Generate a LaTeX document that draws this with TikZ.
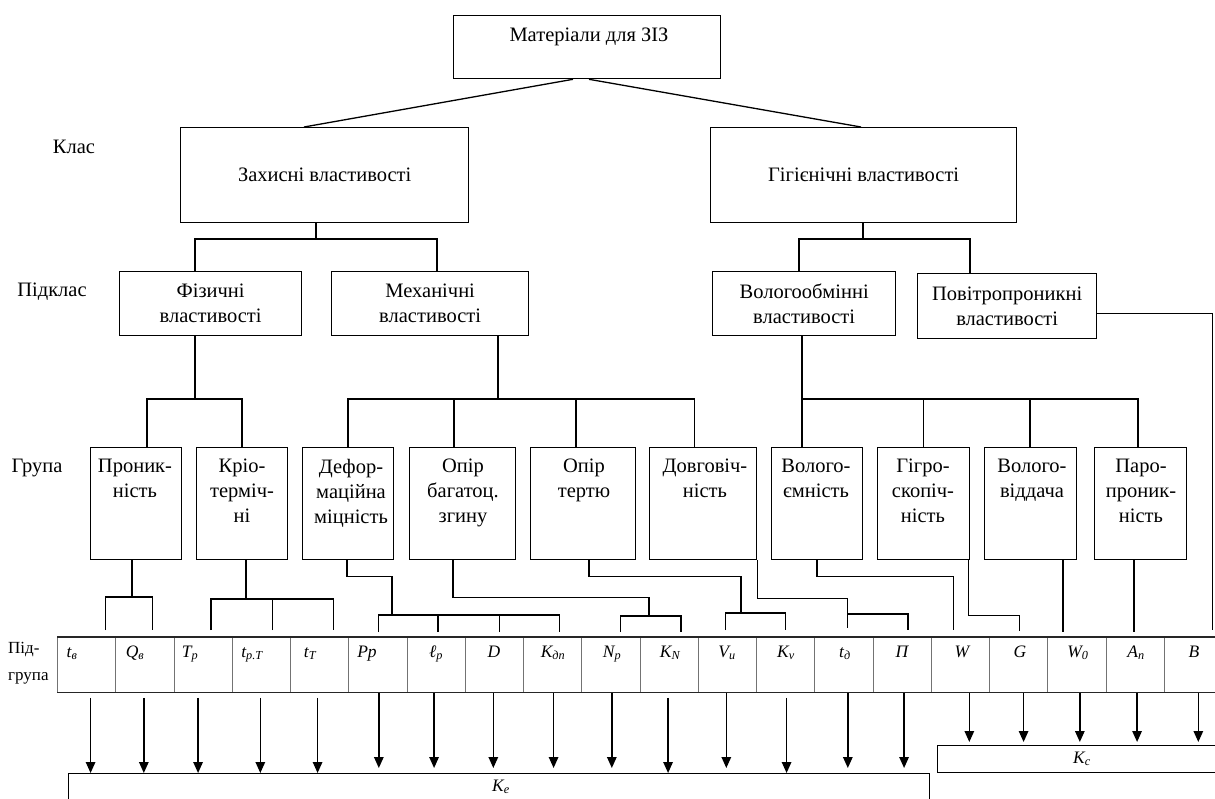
\documentclass[tikz,border=0pt]{standalone}
\usepackage{fontspec}
\setmainfont{Liberation Serif}
\usetikzlibrary{arrows.meta,calc}
\newcommand\mainsz{\fontsize{20.5}{25}\selectfont}
\newcommand\labsz{\fontsize{17.5}{21}\selectfont\itshape}
\begin{document}
\begin{tikzpicture}[x=1pt,y=-1pt,
  every node/.style={font=\mainsz},
  box/.style={draw, line width=1.3pt, inner sep=0pt, anchor=north west, align=center},
  grptxt/.style={align=center, inner sep=0pt, anchor=north, execute at begin node=\strut},
  cell/.style={draw=black!55, line width=0.9pt, inner sep=0pt, anchor=north west, minimum width=58.25, minimum height=55},
  lbl/.style={font=\labsz, inner sep=0pt, anchor=base},
  conn/.style={line width=1.3pt},
  arr/.style={line width=1.4pt, -{Triangle[width=9.5pt,length=11pt]}}
]
\useasboundingbox (0,0) rectangle (1215,798);
\clip (0,0) rectangle (1215,798);

% ---------- side labels
\node (lklas) at (74,147) {Клас};
\node (lpidklas) at (52,292) {Підклас};
\node (lgrupa) at (37,468) {Група};
\node[anchor=west, align=left, font=\fontsize{17}{27}\selectfont, inner sep=0pt] (lpidgr) at (8,663) {Під-\\група};

% ---------- top
\node[box, minimum width=267, minimum height=63] (top) at (453,15) {};
\node (toptxt) at (589,37) {Матеріали для ЗІЗ};

% ---------- classes
\node[box, minimum width=288, minimum height=95] (zah) at (180,127) {Захисні властивості};
\node[box, minimum width=306, minimum height=95] (gig) at (710,127) {Гігієнічні властивості};

% ---------- subclasses
\node[box, minimum width=182, minimum height=64] (fiz) at (119,271) {Фізичні\\властивості};
\node[box, minimum width=197, minimum height=64] (mech) at (331,271) {Механічні\\властивості};
\node[box, minimum width=183, minimum height=64] (volog) at (712,271) {Вологообмінні\\властивості};
\node[box, minimum width=179, minimum height=65] (povitr) at (917,273) {Повітропроникні\\властивості};

% ---------- groups
\node[box, minimum width=91,  minimum height=112] (g1)  at (90,447) {};
\node[box, minimum width=91,  minimum height=112] (g2)  at (196,447) {};
\node[box, minimum width=91,  minimum height=112] (g3)  at (302,447) {};
\node[box, minimum width=106, minimum height=112] (g4)  at (409,447) {};
\node[box, minimum width=105, minimum height=112] (g5)  at (530,447) {};
\node[box, minimum width=107, minimum height=112] (g6)  at (649,447) {};
\node[box, minimum width=91,  minimum height=112] (g7)  at (771,447) {};
\node[box, minimum width=92,  minimum height=112] (g8)  at (877,447) {};
\node[box, minimum width=92,  minimum height=112] (g9)  at (984,447) {};
\node[box, minimum width=92,  minimum height=112] (g10) at (1094,447) {};

\node[grptxt] (t1)  at (135,459) {Проник-\\ність};
\node[grptxt] (t2)  at (242,459) {Кріо-\\терміч-\\ні};
\node[grptxt] (t3)  at (351,459) {Дефор-\\маційна\\міцність};
\node[grptxt] (t4)  at (463,459) {Опір\\багатоц.\\згину};
\node[grptxt] (t5)  at (584,459) {Опір\\тертю};
\node[grptxt] (t6)  at (705,459) {Довговіч-\\ність};
\node[grptxt] (t7)  at (816,459) {Волого-\\ємність};
\node[grptxt] (t8)  at (923,459) {Гігро-\\скопіч-\\ність};
\node[grptxt] (t9)  at (1032,459) {Волого-\\віддача};
\node[grptxt] (t10) at (1141,459) {Паро-\\проник-\\ність};

% ---------- subgroup table
\foreach \i in {1,...,20}
  \node[cell] (c\i) at ({57+(\i-1)*58.25},637) {};
\draw[line width=1.1pt, black!85] (c1.north west) -- (c20.north east);
\draw[line width=1.1pt, black!85] (c1.south west) -- (c20.south east);

\node[lbl] (l1)  at (72,657)   {t\textsubscript{в}};
\node[lbl] (l2)  at (135,657)  {Q\textsubscript{в}};
\node[lbl] (l3)  at (190,657)  {T\textsubscript{р}};
\node[lbl] (l4)  at (252,657)  {t\textsubscript{р.Т}};
\node[lbl] (l5)  at (310,657)  {t\textsubscript{Т}};
\node[lbl] (l6)  at (367,657)  {Рр};
\node[lbl] (l7)  at (436,657)  {ℓ\textsubscript{р}};
\node[lbl] (l8)  at (494,657)  {D};
\node[lbl] (l9)  at (553,657)  {K\textsubscript{дп}};
\node[lbl] (l10) at (612,657)  {N\textsubscript{р}};
\node[lbl] (l11) at (670,657)  {K\textsubscript{N}};
\node[lbl] (l12) at (727,657)  {V\textsubscript{и}};
\node[lbl] (l13) at (786,657)  {K\textsubscript{v}};
\node[lbl] (l14) at (845,657)  {t\textsubscript{д}};
\node[lbl] (l15) at (902,657)  {П};
\node[lbl] (l16) at (962,657)  {W};
\node[lbl] (l17) at (1020,657) {G};
\node[lbl] (l18) at (1078,657) {W\textsubscript{0}};
\node[lbl] (l19) at (1136,657) {A\textsubscript{п}};
\node[lbl] (l20) at (1194,657) {B};

% ---------- K boxes
\node[draw, line width=1.1pt, inner sep=0pt, anchor=north west, minimum width=861, minimum height=60] (ke) at (68,773) {};
\node[lbl] (ketxt) at (501,791) {K\textsubscript{е}};
\node[draw, line width=1.1pt, inner sep=0pt, anchor=north west, minimum width=300, minimum height=27] (kc) at (937,745) {};
\node[lbl] (kctxt) at (1082,763) {K\textsubscript{с}};

% ---------- tree connectors
\draw[conn] ([xshift=120]top.south west) -- ([xshift=124]zah.north west);
\draw[conn] ([xshift=136]top.south west) -- ([xshift=151]gig.north west);

\draw[conn] ([xshift=136]zah.south west) -- ++(0,17);
\draw[conn] ([xshift=76]fiz.north west) -- ++(0,-32) -| ([xshift=106]mech.north west);
\draw[conn] ([xshift=153]gig.south west) -- ++(0,17);
\draw[conn] ([xshift=87]volog.north west) -- ++(0,-32) -| ([xshift=53]povitr.north west);

\draw[conn] ([xshift=76]fiz.south west) -- ++(0,64);
\draw[conn] ([xshift=57]g1.north west) -- ++(0,-48) -| ([xshift=46]g2.north west);
\draw[conn] ([xshift=167]mech.south west) -- ++(0,64);
\draw[conn] ([xshift=46]g3.north west) -- ++(0,-48) -| ([xshift=45.5]g6.north west);
\draw[conn] ([xshift=45]g4.north west) -- ++(0,-48);
\draw[conn] ([xshift=46]g5.north west) -- ++(0,-48);
\draw[conn] ([xshift=90]volog.south west) -- ++(0,64);
\draw[conn] ([xshift=31]g7.north west) -- ++(0,-48) -| ([xshift=44]g10.north west);
\draw[conn] ([xshift=46.6]g8.north west) -- ++(0,-48);
\draw[conn] ([xshift=46]g9.north west) -- ++(0,-48);

\draw[conn] ([yshift=26]povitr.south east) -| ([xshift=19,yshift=7]c20.north);

% ---------- group -> subgroup connectors
\draw[conn] ([xshift=42]g1.south west) -- ++(0,38);
\draw[conn] ([xshift=19,yshift=7]c1.north) -- ++(0,-33) -| ([xshift=8,yshift=7]c2.north);

\draw[conn] ([xshift=50]g2.south west) -- ++(0,40);
\draw[conn] ([xshift=8,yshift=7]c3.north) -- ++(0,-31) -| ([xshift=14,yshift=7]c5.north);
\draw[conn] ([xshift=11,yshift=7]c4.north) -- ++(0,-31);

\draw[conn] ([xshift=45]g3.south west) -- ++(0,16) -- ++(45,0) -- ++(0,40);
\draw[conn] ([xshift=1,yshift=5]c6.north) -- ++(0,-17) -| ([xshift=7,yshift=5]c9.north);
\draw[conn] ([xshift=2,yshift=5]c7.north) -- ++(0,-17);
\draw[conn] ([xshift=5,yshift=5]c8.north) -- ++(0,-17);

\draw[conn] ([xshift=44]g4.south west) -- ++(0,37) -- ++(196,0) -- ++(0,20);
\draw[conn] ([xshift=10,yshift=5]c10.north) -- ++(0,-16) -| ([xshift=12,yshift=5]c11.north);

\draw[conn] ([xshift=59]g5.south west) -- ++(0,16) -- ++(152,0) -- ++(0,38);
\draw[conn] ([xshift=-2,yshift=7]c12.north) -- ++(0,-17) -| ([yshift=7]c13.north);

\draw[conn] (g6.south east) -- ++(0,38) -| ([xshift=4,yshift=9]c14.north);
\draw[conn] ([xshift=4,yshift=23]c14.north) -| ([xshift=6,yshift=7]c15.north);

\draw[conn] ([xshift=46]g7.south west) -- ++(0,16) -| ([xshift=-7,yshift=7]c16.north);
\draw[conn] ([xshift=-2]g8.south east) -- ++(0,55) -| ([xshift=1,yshift=6]c17.north);
\draw[conn] ([xshift=79]g9.south west) -- ++(0,72);
\draw[conn] ([xshift=40]g10.south west) -- ++(0,72);

% ---------- arrows to K boxes
\foreach \i/\dx/\g in {1/4/1, 2/-1/1, 3/-5/1, 4/-1/1, 5/-2/1, 6/1/0, 7/-2/0, 8/-1/0, 9/1/0, 10/1/0, 11/-1/1, 12/-1/0, 13/1/1, 14/4/0, 15/2/0}
  \draw[arr] ($(c\i.south)+(\dx,5*\g)$) -- ($(c\i.south |- ke.north)+(\dx,-5+5*\g)$);
\foreach \i/\dx in {16/9, 17/5, 18/3, 19/2, 20/5}
  \draw[arr] ($(c\i.south)+(\dx,0)$) -- ($(c\i.south |- kc.north)+(\dx,-3)$);
\end{tikzpicture}
\end{document}
